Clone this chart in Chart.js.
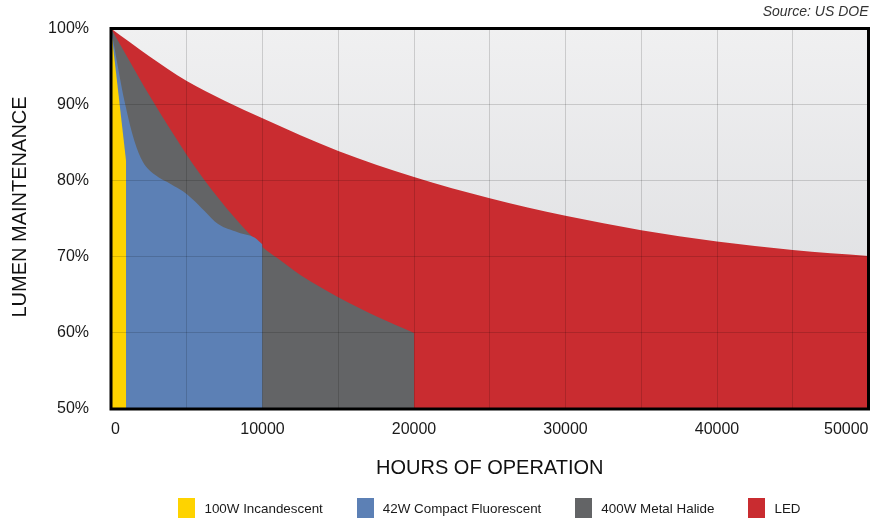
<!DOCTYPE html>
<html>
<head>
<meta charset="utf-8">
<script src="https://cdn.jsdelivr.net/npm/chart.js@4/dist/chart.umd.min.js"></script>
<style>
  html, body { margin: 0; padding: 0; background: #fff; }
  #wrap { position: relative; width: 871px; height: 520px; }
  #legend { position: absolute; left: 111px; top: 498px; width: 757px; display: flex; justify-content: center;
    font: 13.4px 'Liberation Sans', Arial, sans-serif; color: #1a1a1a; }
  #legend .item { display: flex; align-items: center; margin: 0 17px; }
  #legend .box { width: 17px; height: 20px; margin-right: 9px; }
</style>
</head>
<body>
<div id="wrap">
  <canvas id="chart" width="871" height="520"></canvas>
  <div id="legend"></div>
</div>
<script>
// series names and colours
const seriesNames = ['100W Incandescent', '42W Compact Fluorescent', '400W Metal Halide', 'LED'];
const seriesColors = ['#fed300', '#5c80b5', '#636466', '#c92c30'];

// hours of operation / lumen maintenance (%)
const incandescentHours = [0, 1000];
const incandescentLumen = [100, 82.5];

const fluorescentHours = [0, 940, 1550, 2100, 2880, 3990, 4750, 5310, 6190, 7070, 8400, 9500, 10000];
const fluorescentLumen = [100, 90.0, 85.2, 82.5, 80.8, 79.5, 78.6, 77.7, 76.0, 74.3, 73.2, 72.5, 71.6];

const halideHours = [0, 2900, 6200, 10000, 11000, 12500, 15000, 17500, 20000];
const halideLumen = [100, 90.0, 80.0, 71.3, 69.8, 67.6, 64.7, 62.2, 60.0];

const ledHours = [0, 2500, 5000, 7500, 10000, 15000, 20000, 25000, 30000, 35000, 40000, 45000, 50000];
const ledLumen = [100, 96.4, 93.1, 90.5, 88.2, 83.9, 80.5, 77.7, 75.4, 73.5, 72.0, 70.9, 70.1];

const xTicksMax = 50000, xStep = 5000;
const yMin = 50, yMax = 100, yStep = 10;

const FONT = "'Liberation Sans', Arial, sans-serif";
Chart.defaults.font.family = FONT;

function pts(xs, ys) { return xs.map((x, i) => ({ x, y: ys[i] })); }

function area(i, data, smooth) {
  return {
    label: seriesNames[i],
    data,
    backgroundColor: seriesColors[i],
    borderColor: seriesColors[i],
    borderWidth: 0,
    pointRadius: 0,
    fill: 'start',
    tension: 0,
    cubicInterpolationMode: smooth ? 'monotone' : 'default'
  };
}

// plot background gradient + thick black frame + rotated y title
const framePlugin = {
  id: 'frame',
  beforeDatasetsDraw(chart) {
    const { ctx, chartArea: a } = chart;
    const g = ctx.createLinearGradient(0, a.top, 0, a.bottom);
    g.addColorStop(0, '#f0f0f1');
    g.addColorStop(1, '#d9dadd');
    ctx.save();
    ctx.fillStyle = g;
    ctx.fillRect(a.left, a.top, a.right - a.left, a.bottom - a.top);
    ctx.restore();
  },
  afterDraw(chart) {
    const { ctx, chartArea: a } = chart;
    ctx.save();
    ctx.strokeStyle = '#000';
    ctx.lineWidth = 3;
    ctx.strokeRect(a.left, a.top, a.right - a.left, a.bottom - a.top);
    // y axis title
    ctx.translate(20, a.top + (a.bottom - a.top) * 0.469);
    ctx.rotate(-Math.PI / 2);
    ctx.fillStyle = '#111';
    ctx.font = '20px ' + FONT;
    ctx.textAlign = 'center';
    ctx.textBaseline = 'middle';
    ctx.fillText('LUMEN MAINTENANCE', 0, 0);
    ctx.restore();
  }
};

const gridOpts = { color: 'rgba(0,0,0,0.15)', z: 1, drawTicks: true, tickColor: 'rgba(0,0,0,0)' };

const chart = new Chart(document.getElementById('chart').getContext('2d'), {
  type: 'line',
  data: {
    datasets: [
      area(0, pts(incandescentHours, incandescentLumen), false),
      area(1, pts(fluorescentHours, fluorescentLumen), true),
      area(2, pts(halideHours, halideLumen), true),
      area(3, pts(ledHours, ledLumen), true)
    ]
  },
  options: {
    responsive: false,
    animation: false,
    devicePixelRatio: 1,
    layout: { padding: { top: 0, right: 2.5, bottom: 0, left: 0 } },
    plugins: {
      legend: { display: false },
      tooltip: { enabled: false },
      title: {
        display: true, text: 'Source: US DOE', align: 'end', color: '#333',
        font: { size: 14, style: 'italic', weight: 'normal' },
        padding: { top: 4, bottom: 7.7 }
      }
    },
    scales: {
      x: {
        type: 'linear', min: 0, max: xTicksMax,
        border: { display: false },
        grid: Object.assign({}, gridOpts, { tickLength: 11 }),
        ticks: {
          stepSize: xStep, autoSkip: false, maxRotation: 0, align: 'inner', padding: 0,
          color: '#1a1a1a', font: { size: 16 },
          callback: v => (v % 10000 === 0 ? String(v) : '')
        },
        title: { display: true, text: 'HOURS OF OPERATION', color: '#111', font: { size: 20 }, padding: { top: 0, bottom: 40 } },
        afterFit: s => { s.height = 111; }
      },
      y: {
        min: yMin, max: yMax,
        border: { display: false },
        grid: Object.assign({}, gridOpts, { tickLength: 22 }),
        ticks: { stepSize: yStep, padding: 0, color: '#1a1a1a', font: { size: 16 }, callback: v => v + '%' },
        afterFit: s => { s.width = 111; }
      }
    }
  },
  plugins: [framePlugin]
});

// legend
const leg = document.getElementById('legend');
seriesNames.forEach((name, i) => {
  const it = document.createElement('div');
  it.className = 'item';
  const b = document.createElement('span');
  b.className = 'box';
  b.style.background = seriesColors[i];
  const t = document.createElement('span');
  t.textContent = name;
  it.appendChild(b); it.appendChild(t);
  leg.appendChild(it);
});
</script>
</body>
</html>
